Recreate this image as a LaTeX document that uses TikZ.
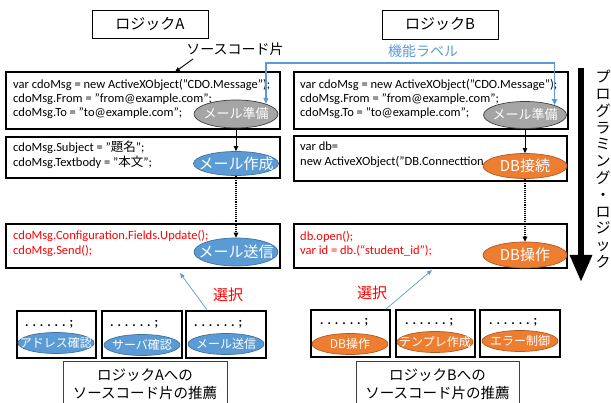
\documentclass[tikz,border=0pt]{standalone}
\usepackage{fontspec}
\setmainfont{Carlito}
\newfontfamily\jp{Noto Sans CJK JP}
\usetikzlibrary{arrows.meta,shapes.geometric}
\definecolor{eblue}{HTML}{5B9BD5}
\definecolor{eblueb}{HTML}{41719C}
\definecolor{eorange}{HTML}{ED7D31}
\definecolor{eorangeb}{HTML}{AE5A21}
\definecolor{egray}{HTML}{A5A5A5}
\definecolor{egrayb}{HTML}{3F3F3F}
\definecolor{ered}{HTML}{FF0000}
\newcommand\zw[1]{\makebox[0pt]{#1}}
\begin{document}
\begin{tikzpicture}[x=1pt,y=-1pt,
  codebox/.style={draw=black,line width=1.6pt,inner sep=0pt},
  titlebox/.style={draw=black,line width=0.9pt,inner sep=0pt,font=\jp\fontsize{15}{18}\selectfont},
  labbox/.style={draw=egrayb,line width=0.9pt,inner sep=0pt},
  labtext/.style={align=center,inner sep=0pt,font=\jp\fontsize{14.5}{18}\selectfont},
  code/.style={anchor=base west,inner sep=0pt,font=\fontsize{12.5}{14}\selectfont},
  redcode/.style={code,text=ered},
  ell/.style={ellipse,inner sep=0pt,line width=0.7pt,text=white},
  grayell/.style={ell,fill=egray,draw=egrayb,font=\jp\fontsize{13}{15}\selectfont},
  blueell/.style={ell,fill=eblue,draw=eblueb,font=\jp\fontsize{15}{17}\selectfont},
  orangeell/.style={ell,fill=eorange,draw=eorangeb,font=\jp\fontsize{15}{17}\selectfont},
  smallbox/.style={draw=black,line width=1.6pt,inner sep=0pt,minimum width=79,minimum height=47},
  dots/.style={anchor=base west,inner sep=0pt,font=\bfseries\fontsize{13}{15}\selectfont},
  smallblue/.style={ell,fill=eblue,draw=eblueb,minimum width=76,minimum height=21,font=\jp\fontsize{12}{14}\selectfont},
  smallorange/.style={ell,fill=eorange,draw=eorangeb,minimum width=76,minimum height=21,font=\jp\fontsize{12}{14}\selectfont},
  jplabel/.style={inner sep=0pt,font=\jp\fontsize{14}{16}\selectfont},
  redlabel/.style={inner sep=0pt,text=ered,font=\jp\fontsize{15}{17}\selectfont},
  flowarrow/.style={line width=0.9pt,-{Triangle[length=5pt,width=4.5pt]}},
  dotarrow/.style={flowarrow,densely dotted,line width=1.2pt},
  bluecon/.style={draw=eblue,line width=1.4pt,{Triangle[length=6pt,width=5pt]}-{Triangle[length=6pt,width=5pt]}},
  selarrow/.style={draw=eblue,line width=0.7pt,-{Triangle[length=5pt,width=4pt]}}
]
\useasboundingbox (0,0) rectangle (611,403);

% title boxes
\node[titlebox,minimum width=116,minimum height=28] (ta) at (150,24) {ロジックA};
\node[titlebox,minimum width=116,minimum height=29] (tb) at (440,24.5) {ロジックB};

% code boxes
\node[codebox,minimum width=274,minimum height=57] (a1) at (143,100.5) {};
\node[codebox,minimum width=274,minimum height=41] (a2) at (143,157.5) {};
\node[codebox,minimum width=274,minimum height=44] (a3) at (143,246) {};
\node[codebox,minimum width=274,minimum height=57] (b1) at (431,100.5) {};
\node[codebox,minimum width=273,minimum height=45] (b2) at (430.5,158.5) {};
\node[codebox,minimum width=273,minimum height=44] (b3) at (430.5,246) {};

% code text A
\node[code] (a1l1) at (13,89) {var cdoMsg = new ActiveXObject("CDO.Message");};
\node[code] (a1l2) at (13,103) {cdoMsg.From = "from@example.com";};
\node[code] (a1l3) at (13,117) {cdoMsg.To = "to@example.com";};
\node[code] (a2l1) at (13,152) {cdoMsg.Subject = "{\jp 題名}";};
\node[code] (a2l2) at (13,167) {cdoMsg.Textbody = "{\jp 本文}";};
\node[redcode] (a3l1) at (13,240) {cdoMsg.Configuration.Fields.Update();};
\node[redcode] (a3l2) at (13,255) {cdoMsg.Send();};

% code text B
\node[code] (b1l1) at (300,89) {var cdoMsg = new ActiveXObject("CDO.Message");};
\node[code] (b1l2) at (300,103) {cdoMsg.From = "from@example.com";};
\node[code] (b1l3) at (300,117) {cdoMsg.To = "to@example.com";};
\node[code] (b2l1) at (300,151) {var db=};
\node[code] (b2l2) at (300,166) {new ActiveXObject("DB.Connecttion};
\node[redcode] (b3l1) at (300,241) {db.open();};
\node[redcode] (b3l2) at (300,255) {var id = db.(“student\_id”);};

% ellipses
\node[grayell,minimum width=84,minimum height=28] (ga) at (236,114) {\zw{メール準備}};
\node[blueell,minimum width=85,minimum height=24] (ma) at (236,163.5) {\zw{メール作成}};
\node[blueell,minimum width=84,minimum height=28] (sa) at (236,252) {\zw{メール送信}};
\node[grayell,minimum width=83,minimum height=27] (gb) at (525,115) {\zw{メール準備}};
\node[orangeell,minimum width=84,minimum height=25] (db1) at (525,166) {\zw{DB接続}};
\node[orangeell,minimum width=84,minimum height=26] (db2) at (525,255) {\zw{DB操作}};

% flow arrows
\draw[flowarrow] (ga.south) -- (ma.north);
\draw[dotarrow] (ma.south) -- (sa.north);
\draw[flowarrow] (gb.south) -- (db1.north);
\draw[dotarrow] (db1.south) -- (db2.north);

% source code label
\node[jplabel] (src) at (235,49) {ソースコード片};
\coordinate (srcS) at (193,59);
\coordinate (srcE) at (175,72);
\draw[flowarrow] (srcS) -- (srcE);

% function label
\node[jplabel,text=eblue] (fl) at (423,51) {機能ラベル};
\coordinate (flab) at (410,63);
\draw[bluecon] (ga.north east) |- (flab) -| (gb.north east);

% big arrow and vertical text
\coordinate (pt) at (581,68);
\coordinate (pb) at (581,282);
\draw[line width=6pt,-{Triangle[length=27pt,width=21pt]}] (pt) -- (pb);
\node[anchor=north,align=center,inner sep=0pt,font=\jp\fontsize{15}{16.8}\selectfont] (pl) at (603,70)
  {プ\\ロ\\グ\\ラ\\ミ\\ン\\グ\\・\\ロ\\ジ\\ッ\\ク};

% recommendation boxes A
\node[smallbox] (sa1) at (56.5,334.5) {};
\node[smallbox,minimum width=80] (sa2) at (142,334.5) {};
\node[smallbox,minimum width=80] (sa3) at (226,334.5) {};
\node[dots] (da1) at (25,327) {. . . . . . ;};
\node[dots] (da2) at (110,327) {. . . . . . ;};
\node[dots] (da3) at (194,327) {. . . . . . ;};
\node[smallblue] (ea1) at (56,343) {\zw{アドレス確認}};
\node[smallblue] (ea2) at (142,345) {\zw{サーバ確認}};
\node[smallblue] (ea3) at (226,344) {\zw{メール送信}};

% recommendation boxes B
\node[smallbox] (sb1) at (350.5,333.5) {};
\node[smallbox] (sb2) at (435.5,333.5) {};
\node[smallbox,minimum width=80] (sb3) at (520,333.5) {};
\node[dots] (db1d) at (320,325) {. . . . . . ;};
\node[dots] (db2d) at (405,325) {. . . . . . ;};
\node[dots] (db3d) at (489,325) {. . . . . . ;};
\node[smallorange] (eb1) at (350,344) {\zw{DB操作}};
\node[smallorange] (eb2) at (435,342) {\zw{テンプレ作成}};
\node[smallorange] (eb3) at (520,341) {\zw{エラー制御}};

% selection
\node[redlabel] (selAt) at (228,295) {選択};
\node[redlabel] (selBt) at (372,293) {選択};
\coordinate (selA) at (180,273);
\coordinate (selB) at (432,270);
\draw[selarrow] ([xshift=22pt]sa3.north west) -- (selA);
\draw[selarrow] ([xshift=-5pt]sb1.north east) -- (selB);

% label boxes
\node[labbox,minimum width=164,minimum height=51] (la) at (145,386.5) {};
\node[labtext] (lat) at (145,384) {ロジックAへの\\ソースコード片の推薦};
\node[labbox,minimum width=163,minimum height=51] (lb) at (437.5,386.5) {};
\node[labtext] (lbt) at (437.5,384) {ロジックBへの\\ソースコード片の推薦};
\end{tikzpicture}
\end{document}
